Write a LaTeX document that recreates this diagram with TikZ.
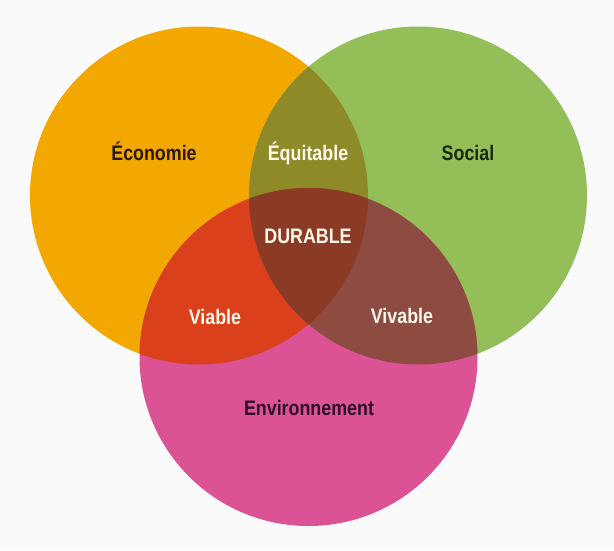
\documentclass[tikz,border=0pt]{standalone}
\usepackage{fontspec}
\setmainfont{Liberation Sans}[FakeStretch=0.85]
\usepackage{tikz}
\usetikzlibrary{positioning}
\definecolor{bgpaper}{HTML}{FAFAFA}
\definecolor{ecofill}{HTML}{F2A800}
\definecolor{socfill}{HTML}{93BE58}
\definecolor{envfill}{HTML}{DB5395}
\definecolor{equfill}{HTML}{8E8A28}
\definecolor{viafill}{HTML}{D9401B}
\definecolor{vivfill}{HTML}{8D4B41}
\definecolor{durfill}{HTML}{8A3A25}
\definecolor{ecotext}{HTML}{2A1808}
\definecolor{soctext}{HTML}{1A2A0E}
\definecolor{envtext}{HTML}{2E0E28}
\definecolor{lighttext}{HTML}{FFF9EC}

\begin{document}
\begin{tikzpicture}[
x=1pt,y=-1pt,
MyLabels/.style={font=\bfseries\fontsize{21}{21}\selectfont,inner sep=0pt,anchor=base},
DarkLabels/.style={MyLabels,text=#1},
LightLabels/.style={MyLabels,text=lighttext}
]
\useasboundingbox[fill=bgpaper] (0,0) rectangle (614,550);

% centres of the three circles
\coordinate (E) at (199,195.5);
\coordinate (S) at (418,195.5);
\coordinate (N) at (308.5,357);
\def\R{169pt}

% the three discs
\fill[ecofill] (E) circle[radius=\R];
\fill[socfill] (S) circle[radius=\R];
\fill[envfill] (N) circle[radius=\R];

% pairwise overlaps
\begin{scope}
\clip (E) circle[radius=\R];
\fill[equfill] (S) circle[radius=\R];
\fill[viafill] (N) circle[radius=\R];
\end{scope}
\begin{scope}
\clip (S) circle[radius=\R];
\fill[vivfill] (N) circle[radius=\R];
\end{scope}

% middle part
\begin{scope}
\clip (E) circle[radius=\R];
\clip (S) circle[radius=\R];
\fill[durfill] (N) circle[radius=\R];
\end{scope}

% labels
\node[DarkLabels=ecotext] (eco) at (154,160) {Économie};
\node[DarkLabels=soctext] (soc) at (468,160) {Social};
\node[DarkLabels=envtext] (env) at (309,415) {Environnement};
\node[LightLabels] (equ) at (308,160) {Équitable};
\node[LightLabels] (dur) at (308,243) {DURABLE};
\node[LightLabels] (via) at (215,324) {Viable};
\node[LightLabels] (viv) at (402,323) {Vivable};

\end{tikzpicture}
\end{document}
